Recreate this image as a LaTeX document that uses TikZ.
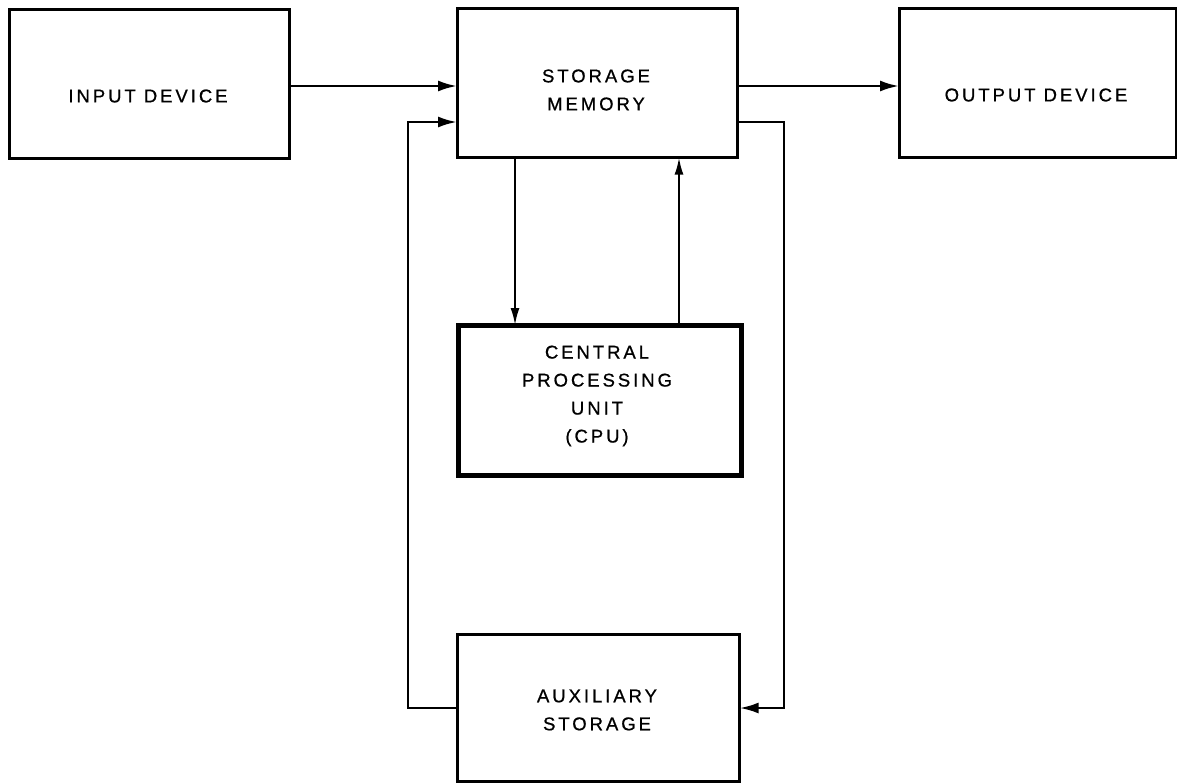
\documentclass[tikz,border=0pt]{standalone}
\usepackage{fontspec}
\setmainfont{Liberation Sans}[LetterSpace=16, FakeBold=0.8]
\usetikzlibrary{arrows.meta}
\begin{document}
\begin{tikzpicture}[x=1pt,y=-1pt,
  box/.style={draw, line width=2.6pt, inner sep=0pt, anchor=north west},
  cpubox/.style={box, line width=5pt},
  lbl/.style={align=center, inner sep=0pt, font=\fontsize{18.5}{28}\selectfont},
  flow/.style={line width=2.6pt, -{Latex[length=19pt,width=11pt]}},
  thinflow/.style={line width=2pt, -{Latex[length=17pt,width=9pt]}}]
\useasboundingbox (0,0) rectangle (1177,782);

% blocks
\node[box, minimum width=280pt, minimum height=149pt] (in)  at (8,8)   {};
\node[box, minimum width=280pt, minimum height=149pt] (mem) at (456,7) {};
\node[box, minimum width=277pt, minimum height=149pt] (out) at (898,7) {};
\node[cpubox, minimum width=283pt, minimum height=150pt] (cpu) at (456,323) {};
\node[box, minimum width=282pt, minimum height=147pt] (aux) at (456,633) {};

% block texts
\node[lbl] (tin)  at (148,96)   {INPUT DEVICE};
\node[lbl] (tmem) at (596,90)   {STORAGE\\MEMORY};
\node[lbl] (tout) at (1036,95)  {OUTPUT DEVICE};
\node[lbl] (tcpu) at (597,396)  {CENTRAL\\PROCESSING\\UNIT\\(CPU)};
\node[lbl] (taux) at (597,710)  {AUXILIARY\\STORAGE};

% routing lines
\coordinate (ymain) at (0,86);
\coordinate (yloop) at (0,122);
\coordinate (yaux)  at (0,708);
\coordinate (xl)    at (408,0);
\coordinate (xr)    at (784,0);
\coordinate (xd)    at (515,0);
\coordinate (xu)    at (679,0);

% connectors
\draw[flow] (in.east |- ymain) -- ([xshift=1pt]mem.west |- ymain);
\draw[flow] (mem.east |- ymain) -- ([xshift=1pt]out.west |- ymain);
\draw[thinflow] (mem.south -| xd) -- ([yshift=-2pt]cpu.north -| xd);
\draw[thinflow] ([yshift=-2pt]cpu.north -| xu) -- ([yshift=1pt]mem.south -| xu);
\draw[flow] (aux.west |- yaux) -| (xl |- yloop) -- ([xshift=1pt]mem.west |- yloop);
\draw[flow] (mem.east |- yloop) -| (xr |- yaux) -- ([xshift=-1pt]aux.east |- yaux);
\end{tikzpicture}
\end{document}
